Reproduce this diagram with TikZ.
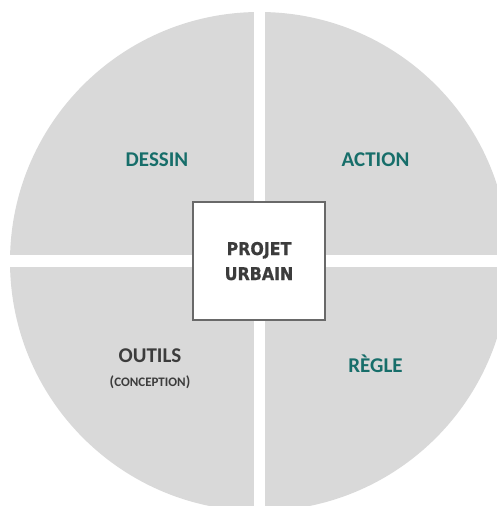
\documentclass[tikz,border=0pt]{standalone}
\usepackage{fontspec}
\setmainfont{Carlito}
\newfontfamily\boxfont[BoldFeatures={FakeBold=0.8}]{DejaVu Sans Condensed}
\definecolor{discgrey}{RGB}{217,217,217}
\definecolor{teal}{RGB}{23,110,106}
\definecolor{darktext}{RGB}{60,60,60}
\definecolor{boxline}{RGB}{105,105,105}
\begin{document}
\begin{tikzpicture}[x=1pt, y=-1pt,
    quadlabel/.style={anchor=base, font=\bfseries\fontsize{21}{21}\selectfont, text=teal, inner sep=0pt},
    toollabel/.style={anchor=base, font=\bfseries\fontsize{21}{21}\selectfont, text=darktext, inner sep=0pt},
    boxtext/.style={anchor=base, font=\boxfont\bfseries\fontsize{17.6}{17.6}\selectfont, text=darktext, inner sep=0pt},
    centrebox/.style={draw=boxline, line width=2pt, fill=white, minimum width=132pt, minimum height=118pt}]
    \useasboundingbox (0,0) rectangle (497,506);
    % disc and the white gaps between quarters
    \fill[discgrey]     (259.5,261.5) circle (249.5pt);
    \fill[white]        (254,0) rectangle (265,506);
    \fill[white]        (0,255) rectangle (497,267);
    % centre
    \node[centrebox]    (projet)  at (259,261) {};
    \node[boxtext]      (projetA) at (259,255) {PROJET};
    \node[boxtext]      (projetB) at (259,280) {URBAIN};
    % quarters
    \node[quadlabel]    (dessin) at (157,166.5) {DESSIN};
    \node[quadlabel]    (action) at (375.5,166.5) {ACTION};
    \node[quadlabel]    (regle)  at (375.5,372) {RÈGLE};
    \node[toollabel]    (outils) at (150,362) {OUTILS};
    \node[anchor=base, font=\bfseries, text=darktext, inner sep=0pt] (conception) at (150,386)
        {\fontsize{14.5}{14.5}\selectfont(\fontsize{13}{13}\selectfont CONCEPTION\fontsize{14.5}{14.5}\selectfont)};
\end{tikzpicture}
\end{document}
